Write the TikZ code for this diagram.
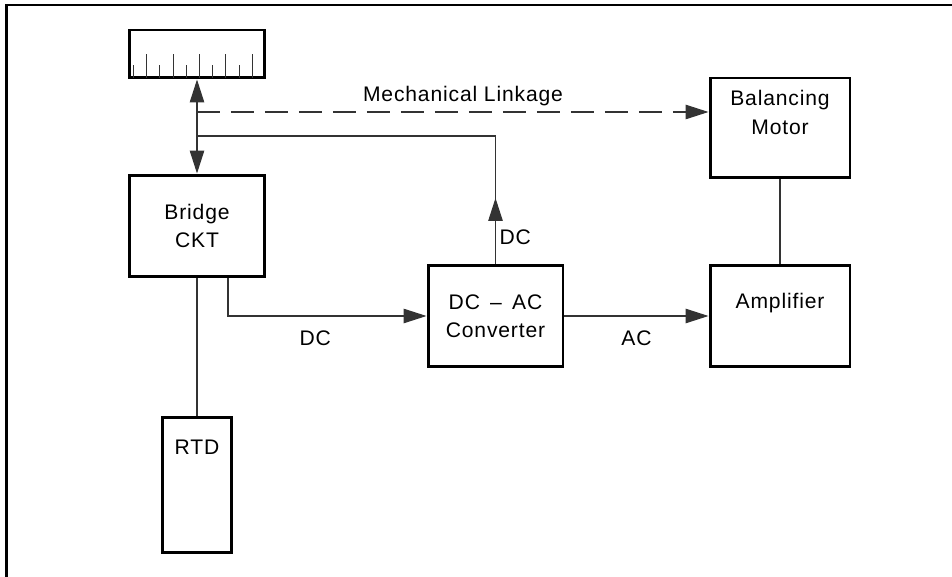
\documentclass[tikz,border=0pt]{standalone}
\usepackage{fontspec}
\setmainfont{Liberation Sans}[LetterSpace=4]
\usepackage{tikz}
\usetikzlibrary{positioning,arrows.meta,calc}
\definecolor{dline}{HTML}{000000}
\definecolor{dthin}{HTML}{333333}
\tikzset{dbox/.style={rectangle, draw=dline, line width=1.7pt, inner sep=0pt, align=center, font=\fontsize{12}{16}\selectfont}}
\tikzset{dtext/.style={font=\fontsize{12}{16}\selectfont, inner sep=1pt, align=center}}
\tikzset{dwire/.style={draw=dthin, line width=0.6pt}}
\tikzset{dedge/.style={dwire, -{Triangle[length=0.46cm, width=0.29cm]}}}
\tikzset{dframe/.style={draw=dline, line width=1.7pt}}

\begin{document}
\begin{tikzpicture}[x=0.02cm, y=-0.02cm]
  \useasboundingbox (0,0) rectangle (952,577);
  \draw[dframe] (6.5,577) -- (6.5,5) -- (952,5);

  \node[dbox, minimum width=2.7cm, minimum height=0.96cm] (meter) at (197,54) {};
  \foreach \i in {0,...,9} {
    \pgfmathsetmacro{\tk}{mod(\i,2)==0 ? 13 : 24}
    \draw[dwire] (133.5+13.2*\i,78) -- ++(0,-\tk);
  }

  \node[dbox, minimum width=2.7cm, minimum height=2.04cm] (bridge) at (197,226) {Bridge\\CKT};
  \node[dbox, minimum width=1.38cm, minimum height=2.72cm] (rtd) at (197,485) {};
  \node[dtext, below=0.44cm of rtd.north] (rtdtext) {RTD};
  \node[dbox, minimum width=2.7cm, minimum height=2.04cm] (conv) at (495.5,316) {DC \,--\, AC\\Converter};
  \node[dbox, minimum width=2.8cm, minimum height=2.04cm] (amp) at (780,316) {};
  \node[dtext, below=0.56cm of amp.north] (amptext) {Amplifier};
  \node[dbox, minimum width=2.8cm, minimum height=2.0cm] (motor) at (780,128) {};
  \node[dtext, below=0.24cm of motor.north] (motortext) {Balancing\\Motor};

  \coordinate (linktap) at (197,112);
  \coordinate (fbtap) at (197,136);
  \coordinate (fbtip) at (495.5,198);

  \draw[dwire, {Triangle[length=0.46cm, width=0.29cm]}-{Triangle[length=0.46cm, width=0.29cm]}] (meter) -- (bridge);
  \draw[dedge, dash pattern=on 0.46cm off 0.22cm] (linktap) -- (linktap -| motor.west) node[dtext, pos=0.52, above=2pt] (linklabel) {Mechanical Linkage};

  \draw[dwire] (conv.north) -- (conv.north |- fbtap) -- (fbtap);
  \draw[dedge] (conv.north) -- (fbtip) node[dtext, pos=0.4, right=1pt] (fblabel) {DC};

  \draw[dedge] ([xshift=0.62cm]bridge.south) |- (conv.west) node[dtext, pos=0.72, below=7pt] (dclabel) {DC};
  \draw[dedge] (conv) -- (amp) node[dtext, midway, below=7pt] (aclabel) {AC};
  \draw[dwire] (bridge) -- (rtd);
  \draw[dwire] (motor) -- (amp);
\end{tikzpicture}
\end{document}
